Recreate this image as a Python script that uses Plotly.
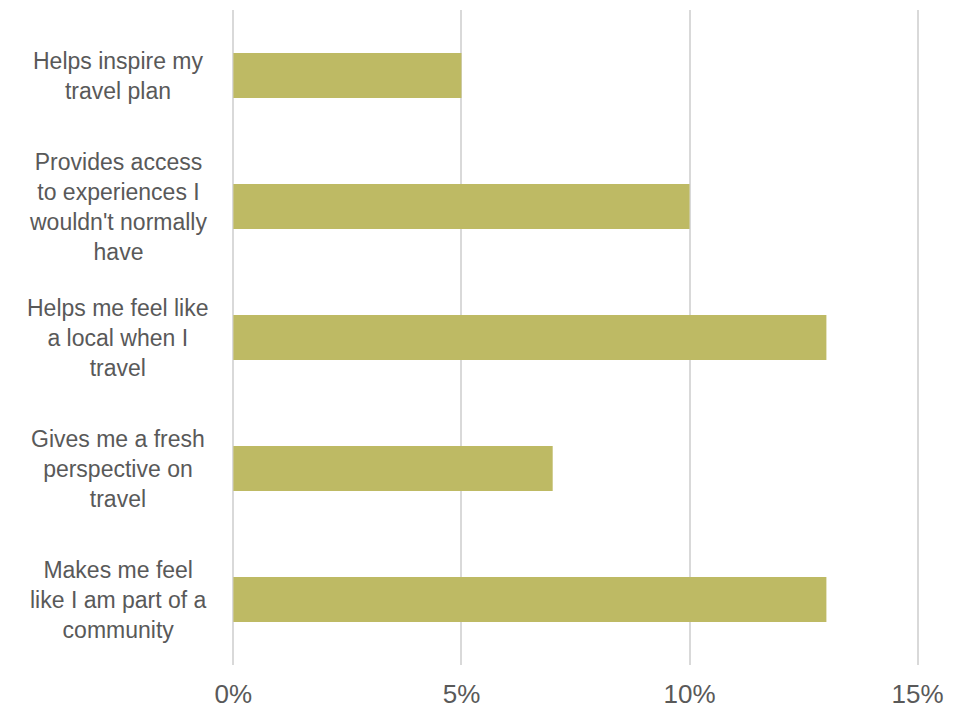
import plotly.graph_objects as go

categories = [
    "Helps inspire my<br>travel plan",
    "Provides access<br>to experiences I<br>wouldn't normally<br>have",
    "Helps me feel like<br>a local when I<br>travel",
    "Gives me a fresh<br>perspective on<br>travel",
    "Makes me feel<br>like I am part of a<br>community",
]
values = [0.05, 0.10, 0.13, 0.07, 0.13]
x_ticks = [0, 0.05, 0.10, 0.15]
x_tick_labels = ["0%", "5%", "10%", "15%"]

ids = list(range(len(categories)))

fig = go.Figure()
fig.add_trace(go.Bar(
    x=values, y=ids, orientation="h",
    marker=dict(color="#BEBA64", line=dict(width=0)),
    hoverinfo="skip",
))

for i, c in zip(ids, categories):
    fig.add_annotation(
        x=0, xref="paper", y=i, yref="y", text=c, showarrow=False,
        xanchor="center", yanchor="middle", align="center", xshift=-114,
        font=dict(family="Liberation Sans, Arial, sans-serif", size=23, color="#595959"),
    )

fig.update_layout(
    width=965, height=709,
    margin=dict(l=232, r=46, t=10, b=44),
    paper_bgcolor="white", plot_bgcolor="white",
    bargap=0.655, showlegend=False,
    font=dict(family="Liberation Sans, Arial, sans-serif", color="#595959"),
)
fig.update_xaxes(
    range=[-0.0003, 0.1503], tickvals=x_ticks, ticktext=x_tick_labels,
    showgrid=True, gridcolor="#D9D9D9", gridwidth=1.5,
    zeroline=False, showline=False,
    ticks="outside", ticklen=6, tickcolor="rgba(0,0,0,0)",
    tickfont=dict(size=26, color="#595959"), automargin=False,
)
fig.update_yaxes(
    range=[4.5, -0.5], showticklabels=False, showgrid=False,
    zeroline=False, showline=False, automargin=False,
)

fig.write_html(
    "out.html",
    config={"displayModeBar": False},
    post_script="document.body.style.margin='0px';document.body.style.overflow='hidden';",
)
